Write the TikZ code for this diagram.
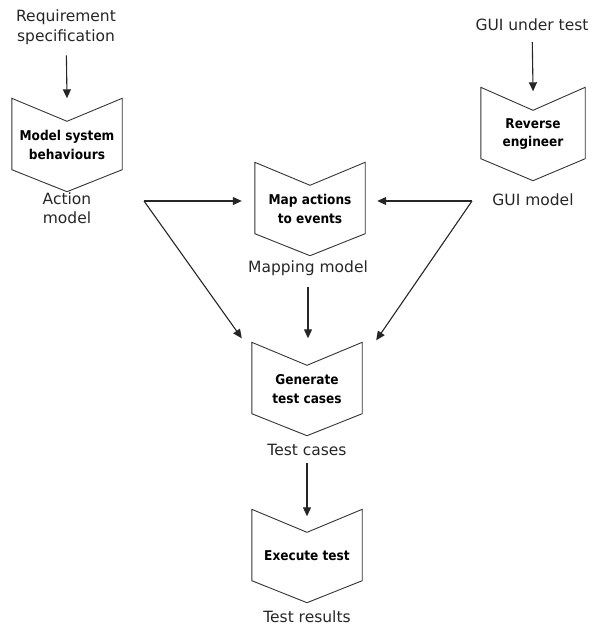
\documentclass[tikz,border=0pt]{standalone}
\usepackage{fontspec}
\setmainfont{DejaVu Sans}
\newfontfamily\boxfont{DejaVu Sans Condensed}
\usetikzlibrary{arrows.meta}

\tikzset{
	shapeline/.style={line width=0.9pt, black!80, line join=miter},
	chevron/.style={minimum width=110pt, minimum height=93pt, inner sep=0pt, align=center,
		font=\boxfont\bfseries\fontsize{13.5}{18.5}\selectfont,
		append after command={\pgfextra{\draw[shapeline] (\tikzlastnode.north west) -- ([yshift=-23pt]\tikzlastnode.north) -- (\tikzlastnode.north east) -- ([yshift=22pt]\tikzlastnode.south east) -- (\tikzlastnode.south) -- ([yshift=22pt]\tikzlastnode.south west) -- cycle;}}},
	note/.style={align=center, inner sep=1pt, font=\fontsize{15.5}{19.5}\selectfont, black!85},
	flow/.style={-{Triangle[length=9pt,width=8pt]}, line width=1.1pt, black!85},
}

\begin{document}
\begin{tikzpicture}[x=1pt, y=-1pt]
	\useasboundingbox (0,0) rectangle (596,626);

	\node[note] (req) at (66,27) {Requirement\\specification};
	\node[note] (gui) at (532,25) {GUI under test};

	\node[chevron] (msb) at (67,145) {Model system\\behaviours};
	\node[chevron, minimum width=104pt] (rev) at (533,134) {Reverse\\engineer};
	\node[chevron] (map) at (310,209) {Map actions\\to events};
	\node[chevron] (gen) at (307,389) {Generate\\test cases};
	\node[chevron] (exe) at (307,556) {Execute test};

	\node[note] (amod) at (67,208) {Action\\model};
	\node[note] (gmod) at (533,200) {GUI model};
	\node[note] (mmod) at (308,268) {Mapping model};
	\node[note] (tcas) at (307,450) {Test cases};
	\node[note] (tres) at (307,617) {Test results};

	\coordinate (ajoin) at (144,201);
	\coordinate (gjoin) at (472,201);

	\draw[flow, shorten <=10pt] (req) -- (msb.north);
	\draw[flow, shorten <=10pt, shorten >=-4pt] (gui) -- (rev.north);

	\draw[flow, shorten >=13pt] (ajoin) -- (ajoin -| map.west);
	\draw[flow] (ajoin) -- ([xshift=-10pt,yshift=4pt]gen.north west);
	\draw[flow, shorten >=12pt] (gjoin) -- (gjoin -| map.east);
	\draw[flow] (gjoin) -- ([xshift=14pt,yshift=2pt]gen.north east);

	\draw[flow, shorten <=10pt, shorten >=4pt] (mmod.south) -- (mmod.south |- gen.north);
	\draw[flow, shorten <=6pt, shorten >=-7pt] (tcas) -- (exe);
\end{tikzpicture}
\end{document}
